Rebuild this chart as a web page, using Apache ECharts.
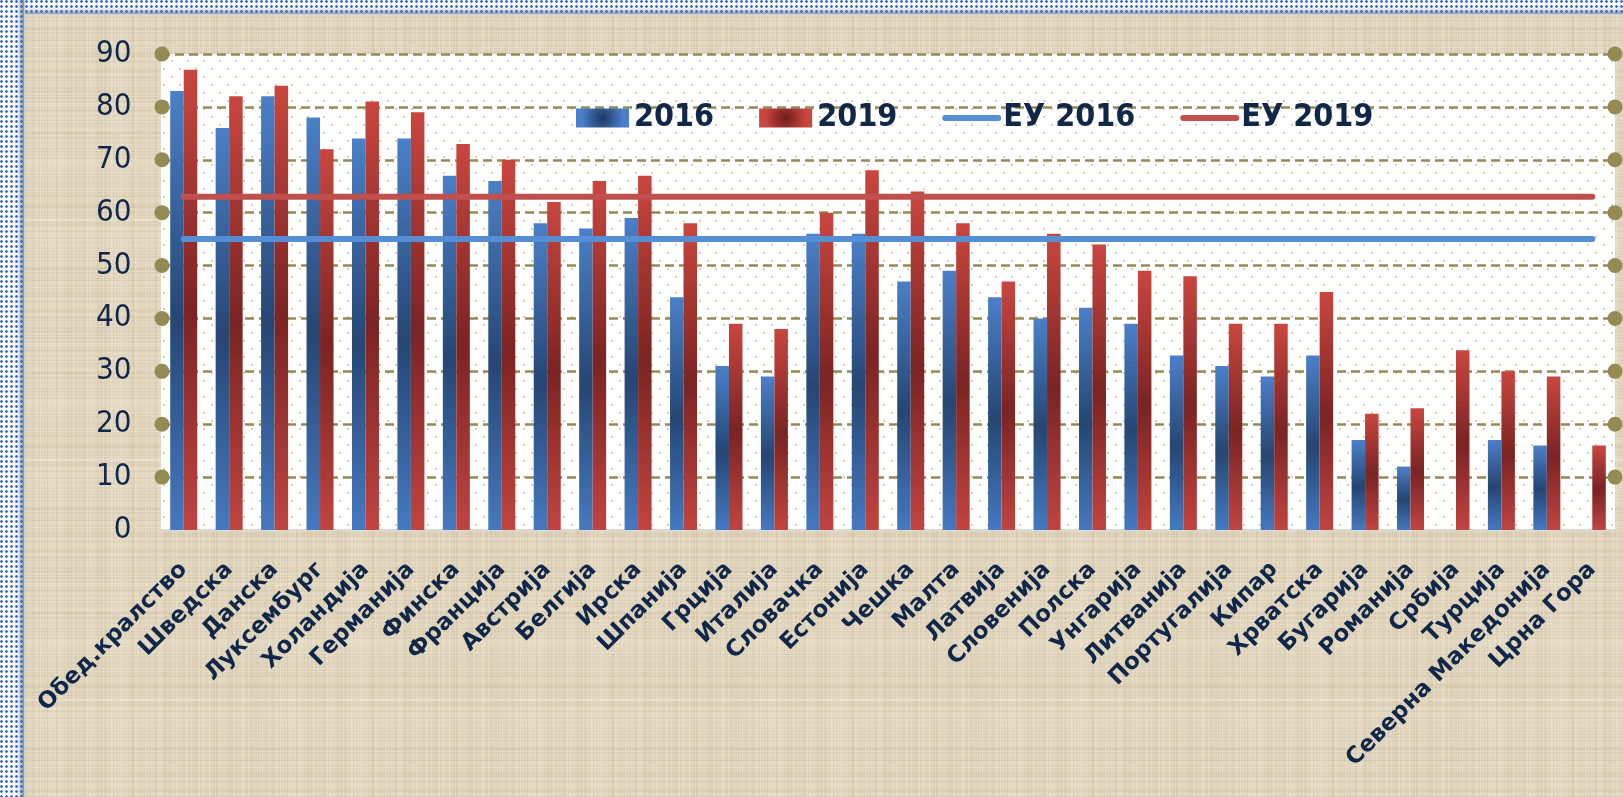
<!DOCTYPE html>
<html lang="sr">
<head>
<meta charset="UTF-8">
<title>ЕУ 2016 / 2019</title>
<style>
  html, body { margin: 0; padding: 0; }
  body { width: 1623px; height: 797px; overflow: hidden; position: relative; background: #e2d6bd; }
  #main { position: absolute; left: 0; top: 0; width: 1623px; height: 797px; }
  .frame { position: absolute; pointer-events: none; z-index: 5; }
  #frameTop { left: 0; top: 0; width: 1623px; height: 15px;
    background:
      radial-gradient(circle at 1.5px 1.5px, #3f70c2 1px, transparent 1.6px) 0 0 / 5px 5px,
      linear-gradient(to bottom, #ffffff 0%, #f3f4f7 55%, #9aa2b0 92%, #f4f4f4 100%); }
  #frameLeft { left: 0; top: 0; width: 25px; height: 797px;
    background:
      radial-gradient(circle at 1.5px 1.5px, #3f70c2 1px, transparent 1.6px) 0 0 / 5px 5px,
      linear-gradient(to right, #ffffff 0%, #f3f4f7 70%, #8e97a6 94%, #e8e8ea 100%); }
</style>
</head>
<body>
<div id="main"></div>
<div id="frameTop" class="frame"></div>
<div id="frameLeft" class="frame"></div>
<script src="https://cdn.jsdelivr.net/npm/echarts@6/dist/echarts.min.js"></script>
<script>
// податоци
var categories = ['Обед.кралство', 'Шведска', 'Данска', 'Луксембург', 'Холандија', 'Германија',
  'Финска', 'Франција', 'Австрија', 'Белгија', 'Ирска', 'Шпанија', 'Грција', 'Италија',
  'Словачка', 'Естонија', 'Чешка', 'Малта', 'Латвија', 'Словенија', 'Полска', 'Унгарија',
  'Литванија', 'Португалија', 'Кипар', 'Хрватска', 'Бугарија', 'Романија', 'Србија',
  'Турција', 'Северна Македонија', 'Црна Гора'];
var values2016 = [83, 76, 82, 78, 74, 74, 67, 66, 58, 57, 59, 44, 31, 29, 56, 56, 47, 49, 44, 40,
  42, 39, 33, 31, 29, 33, 17, 12, null, 17, 16, null];
var values2019 = [87, 82, 84, 72, 81, 79, 73, 70, 62, 66, 67, 58, 39, 38, 60, 68, 64, 58, 47, 56,
  54, 49, 48, 39, 39, 45, 22, 23, 34, 30, 29, 16];
var euAverage2016 = 55;
var euAverage2019 = 63;
var yTicks = [0, 10, 20, 30, 40, 50, 60, 70, 80, 90];

var navy = '#10274a';
var olive = '#948a54';
var fontCond = "'DejaVu Sans Condensed', 'DejaVu Sans', sans-serif";
var fontWide = "'DejaVu Sans', sans-serif";

// позадина - ленена текстура
(function () {
  var c = document.createElement('canvas');
  c.width = 240; c.height = 240;
  var ctx = c.getContext('2d');
  ctx.fillStyle = '#e2d6bd';
  ctx.fillRect(0, 0, 240, 240);
  var s = 12345;
  function rnd() { s = (s * 1103515245 + 12345) % 2147483648; return s / 2147483648; }
  for (var i = 0; i < 240; i++) {
    var a = rnd();
    ctx.fillStyle = a > 0.5 ? 'rgba(248,243,230,' + (a - 0.5) * 0.5 + ')' : 'rgba(150,135,105,' + a * 0.22 + ')';
    ctx.fillRect(0, i, 240, 1);
    var b = rnd();
    ctx.fillStyle = b > 0.5 ? 'rgba(248,243,230,' + (b - 0.5) * 0.45 + ')' : 'rgba(150,135,105,' + b * 0.2 + ')';
    ctx.fillRect(i, 0, 1, 240);
  }
  document.body.style.backgroundImage = 'url(' + c.toDataURL() + ')';
})();

// точкеста позадина за површината
var dots = document.createElement('canvas');
dots.width = 16; dots.height = 16;
(function () {
  var ctx = dots.getContext('2d');
  ctx.fillStyle = '#ffffff';
  ctx.fillRect(0, 0, 16, 16);
  ctx.fillStyle = '#d8cfae';
  ctx.fillRect(3, 4, 2, 2);
  ctx.fillRect(11, 12, 2, 2);
})();

function barGradient(light, dark, bottom) {
  return new echarts.graphic.LinearGradient(0, 0, 0, 1, [
    { offset: 0, color: light },
    { offset: 0.52, color: dark },
    { offset: 1, color: bottom }
  ]);
}
function legendGradient(edge, center) {
  return new echarts.graphic.RadialGradient(0.5, 0.5, 1.1, [
    { offset: 0, color: center },
    { offset: 1, color: edge }
  ]);
}

var chart = echarts.init(document.getElementById('main'), null, { renderer: 'canvas' });

chart.setOption({
  backgroundColor: 'transparent',
  animation: false,
  textStyle: { fontFamily: fontCond },
  grid: {
    left: 161, right: 8, top: 54, bottom: 267,
    show: true, borderWidth: 0,
    backgroundColor: { image: dots, repeat: 'repeat' },
    outerBoundsMode: 'none'
  },
  legend: {
    left: 571, top: 97,
    itemWidth: 53, itemHeight: 19, itemGap: 45,
    lineStyle: { width: 6, cap: 'round' },
    textStyle: { fontSize: 32, fontWeight: 'bold', color: navy, fontFamily: fontCond },
    data: [
      { name: '2016', icon: 'rect', itemStyle: { color: legendGradient('#4a80c8', '#1d3760') } },
      { name: '2019', icon: 'rect', itemStyle: { color: legendGradient('#c9463f', '#6e1d1c') } },
      { name: 'ЕУ 2016', itemStyle: { color: 'rgba(0,0,0,0)', borderWidth: 0 } },
      { name: 'ЕУ 2019', itemStyle: { color: 'rgba(0,0,0,0)', borderWidth: 0 } }
    ]
  },
  xAxis: {
    type: 'category',
    data: categories,
    axisTick: { show: false },
    axisLine: { lineStyle: { color: '#d9d9d9', width: 2 } },
    axisLabel: {
      interval: 0, rotate: 45, margin: 36,
      fontSize: 23, fontWeight: 'bold', color: navy, fontFamily: fontWide
    }
  },
  yAxis: [{
    type: 'value', position: 'left',
    min: yTicks[0], max: yTicks[yTicks.length - 1], interval: yTicks[1] - yTicks[0],
    axisLine: { show: false }, axisTick: { show: false },
    splitLine: { showMinLine: false, lineStyle: { color: olive, width: 2.5, type: [9, 5] } },
    axisLabel: {
      margin: -8.5,
      formatter: function (v) { return v === 0 ? '{v|0}{sp|}{blank|}' : '{v|' + v + '}{sp|}{dot|}'; },
      rich: {
        v: { fontSize: 31, color: navy, fontFamily: fontCond },
        sp: { width: 23 },
        blank: { width: 15, height: 15 },
        dot: { width: 15, height: 15, borderRadius: 7.5, backgroundColor: olive }
      }
    }
  }, {
    type: 'value', position: 'right',
    min: yTicks[0], max: yTicks[yTicks.length - 1], interval: yTicks[1] - yTicks[0],
    axisLine: { show: false }, axisTick: { show: false }, splitLine: { show: false },
    axisLabel: {
      margin: -7.5,
      formatter: function (v) { return v === 0 ? '' : '{dot|}'; },
      rich: { dot: { width: 15, height: 15, borderRadius: 7.5, backgroundColor: olive } }
    }
  }],
  series: [{
    name: '2016', type: 'bar', data: values2016,
    barWidth: 13.5, barGap: '0%',
    itemStyle: { color: barGradient('#4a80c8', '#264673', '#4579c0') }
  }, {
    name: '2019', type: 'bar', data: values2019,
    barWidth: 13.5,
    itemStyle: { color: barGradient('#c9463f', '#7a2423', '#c04440') }
  }, {
    name: 'ЕУ 2016', type: 'line', symbol: 'none', z: 5,
    data: categories.map(function () { return euAverage2016; }),
    itemStyle: { color: '#558ed5' },
    lineStyle: { color: '#558ed5', width: 6, cap: 'round' }
  }, {
    name: 'ЕУ 2019', type: 'line', symbol: 'none', z: 5,
    data: categories.map(function () { return euAverage2019; }),
    itemStyle: { color: '#c0504d' },
    lineStyle: { color: '#c0504d', width: 6, cap: 'round' }
  }]
});
</script>
</body>
</html>
